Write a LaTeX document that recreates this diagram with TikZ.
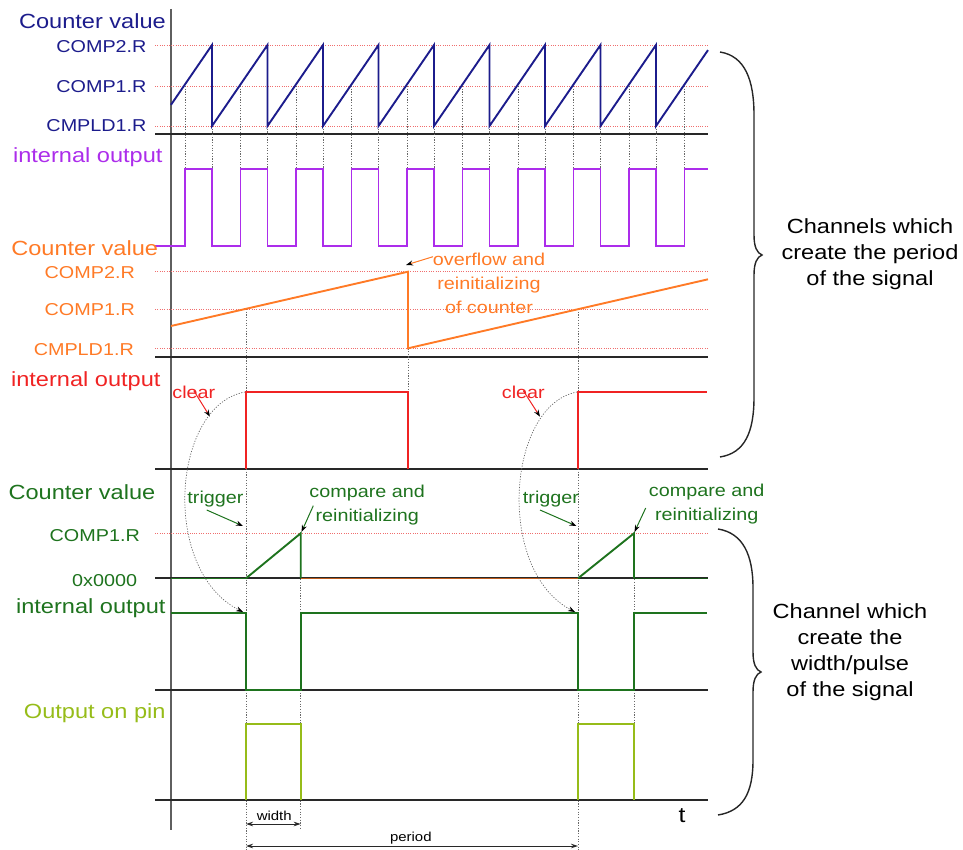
\documentclass[tikz,border=0pt]{standalone}
\usepackage{fontspec}
\setmainfont[FakeStretch=1.15]{Liberation Sans}
\usetikzlibrary{arrows.meta}

\definecolor{cblue}{RGB}{28,28,140}
\definecolor{cpurple}{RGB}{172,45,235}
\definecolor{corange}{RGB}{255,122,38}
\definecolor{cred}{RGB}{240,35,35}
\definecolor{cgreen}{RGB}{30,115,30}
\definecolor{cpin}{RGB}{150,188,25}
\definecolor{refred}{RGB}{240,110,110}
\definecolor{guidecol}{RGB}{105,105,105}
\definecolor{axiscol}{RGB}{95,95,95}
\definecolor{basecol}{RGB}{40,40,40}

\begin{document}
\begin{tikzpicture}[x=1pt,y=-1pt,
  lbl/.style={font=\fontsize{20.5}{26}\selectfont, inner sep=0pt},
  lvl/.style={font=\fontsize{17.2}{24}\selectfont, inner sep=0pt},
  note/.style={font=\fontsize{17.2}{24}\selectfont, inner sep=0pt, align=center},
  tinylbl/.style={font=\fontsize{13}{15}\selectfont, inner sep=0pt},
  sig/.style={line width=1.9pt},
  baseln/.style={draw=basecol, line width=1.9pt},
  refl/.style={draw=refred, line width=0.8pt, dash pattern=on 1pt off 1.3pt},
  guide/.style={draw=guidecol, line width=0.7pt, dash pattern=on 1.2pt off 1.5pt},
  ahead/.style={-{Stealth[length=7pt,width=5pt,color=black]}},
  dimarrow/.style={draw=basecol, line width=0.9pt, {Stealth[length=7pt,width=4.5pt]}-{Stealth[length=7pt,width=4.5pt]}},
  bracefill/.style={draw=black!85, line width=1.4pt},
]
\useasboundingbox (0,0) rectangle (963,850);

% time axis
\draw[draw=axiscol, line width=1.6pt] (171,9) -- (171,830);

% panel baselines
\foreach \yy in {134,356.7,469,578.3,690,800}
  \draw[baseln] (155,\yy) -- (708,\yy);

% compare / reload levels
\foreach \yy in {45,86,126,271.7,309,348.3,533.3}
  \draw[refl] (155,\yy) -- (708,\yy);

% guides of the fast counter
\foreach \k in {0,...,9}
  \draw[guide] ({185+55.5*\k},86) -- ({185+55.5*\k},169);
\foreach \k in {0,...,8}
  \draw[guide] ({212+55.5*\k},126) -- ({212+55.5*\k},169);

% guides of the slow counter and the pulse channel
\draw[guide] (246,309) -- (246,392.3);
\draw[guide] (408,348.3) -- (408,392.3);
\draw[guide] (578,309) -- (578,392.3);
\draw[guide] (246,469) -- (246,613.3);
\draw[guide] (578,469) -- (578,613.3);
\draw[guide] (300.7,533.3) -- (300.7,613.3);
\draw[guide] (634,533.3) -- (634,613.3);
\draw[guide] (246,690) -- (246,850);
\draw[guide] (300.7,690) -- (300.7,830);
\draw[guide] (578,690) -- (578,850);
\draw[guide] (634,690) -- (634,724.3);

% fast sawtooth counter
\draw[sig, cblue] (171,104.8)
  \foreach \k in {0,...,8} { -- ({212+55.5*\k},45) -- ({212+55.5*\k},126) }
  -- (708,50.1);

% its internal output
\draw[sig, cpurple] (155,245.7)
  \foreach \k in {0,...,8} { -- ({185+55.5*\k},245.7) -- ({185+55.5*\k},169)
     -- ({212+55.5*\k},169) -- ({212+55.5*\k},245.7) }
  -- (684.5,245.7) -- (684.5,169) -- (708,169);

% slow counter
\draw[sig, corange] (171,326) -- (408,271.7) -- (408,348.3) -- (708,279.3);

% its internal output
\draw[sig, cred] (246,469) -- (246,392.3) -- (408,392.3) -- (408,469);
\draw[sig, cred] (578,469) -- (578,392.3) -- (707,392.3);

% one-shot counter
\draw[line width=1.2pt, cgreen] (171,578.3) -- (246,578.3);
\draw[sig, cgreen] (246,578.3) -- (300.7,533.3) -- (300.7,578.3);
\draw[line width=1.2pt, corange!75!black] (300.7,578.3) -- (578,578.3);
\draw[sig, cgreen] (578,578.3) -- (634,533.3) -- (634,578.3);
\draw[line width=1.2pt, cgreen!70!black] (634,578.3) -- (708,578.3);

% its internal output
\draw[sig, cgreen] (171,613.3) -- (246,613.3) -- (246,690) -- (300.7,690)
  -- (300.7,613.3) -- (578,613.3) -- (578,690) -- (634,690) -- (634,613.3) -- (707,613.3);

% output on pin
\draw[sig, cpin] (246,800) -- (246,724.3) -- (300.7,724.3) -- (300.7,800);
\draw[sig, cpin] (578,800) -- (578,724.3) -- (634,724.3) -- (634,800);

% channel labels
\node[lbl, text=cblue, anchor=base east] (bcv) at (166,28.3) {Counter value};
\node[lvl, text=cblue, anchor=base east] (bc2) at (146.7,52.7) {COMP2.R};
\node[lvl, text=cblue, anchor=base east] (bc1) at (146.7,92.7) {COMP1.R};
\node[lvl, text=cblue, anchor=base east] (bld) at (146.7,131.7) {CMPLD1.R};
\node[lbl, text=cpurple, anchor=base east] (pio) at (162.7,162.3) {internal output};
\node[lbl, text=corange, anchor=base east] (ocv) at (158.3,255) {Counter value};
\node[lvl, text=corange, anchor=base east] (oc2) at (135,278.3) {COMP2.R};
\node[lvl, text=corange, anchor=base east] (oc1) at (135,315.7) {COMP1.R};
\node[lvl, text=corange, anchor=base east] (old) at (134,355) {CMPLD1.R};
\node[lbl, text=cred, anchor=base east] (rio) at (160.7,386.7) {internal output};
\node[lbl, text=cgreen, anchor=base east] (gcv) at (155.5,499.3) {Counter value};
\node[lvl, text=cgreen, anchor=base east] (gc1) at (140,541.7) {COMP1.R};
\node[lvl, text=cgreen, anchor=base east] (gz) at (137.3,586) {0x0000};
\node[lbl, text=cgreen, anchor=base east] (gio) at (165.7,613.3) {internal output};
\node[lbl, text=cpin, anchor=base east] (pin) at (165.7,718.3) {Output on pin};

% overflow note
\node[note, text=corange] (ovf) at (489,283.8) {overflow and\\reinitializing\\of counter};
\coordinate (ovftip) at (406,265);
\draw[ahead, corange, line width=1pt] (433,256.7) -- (ovftip);

% clear notes
\node[lvl, text=cred, anchor=base] (clr1) at (193.8,398.3) {clear};
\node[lvl, text=cred, anchor=base] (clr2) at (523.3,398.3) {clear};
\draw[ahead, cred, line width=1pt] ([yshift=8]clr1.south) -- (210,416.7);
\draw[ahead, cred, line width=1pt] ([yshift=8]clr2.south) -- (540,416.7);

% trigger notes
\node[lvl, text=cgreen, anchor=base] (trg1) at (215.5,503.3) {trigger};
\node[lvl, text=cgreen, anchor=base] (trg2) at (551,503.3) {trigger};
\draw[ahead, cgreen, line width=1pt] (206.7,510) -- (243,526);
\draw[ahead, cgreen, line width=1pt] (540,510) -- (576.5,526);

% compare notes
\node[note, text=cgreen] (cmp1) at (367.2,505.1) {compare and\\reinitializing};
\node[note, text=cgreen] (cmp2) at (706.7,504.3) {compare and\\reinitializing};
\draw[ahead, cgreen, line width=1pt] (313.3,505.7) -- (301.5,532);
\draw[ahead, cgreen, line width=1pt] (645.7,508) -- (634.5,532);

% clear edge triggers the one-shot channel
\draw[guide, ahead] (245,392) .. controls (172,405) and (160,570) .. (243,612);
\draw[guide, ahead] (577,392) .. controls (507,405) and (495,570) .. (575,612);

% width and period
\draw[dimarrow] (246,824) -- (300.7,824);
\node[tinylbl, anchor=base] (wid) at (274.2,820) {width};
\draw[dimarrow] (246,846) -- (578,846);
\node[tinylbl, anchor=base] (per) at (410.8,841.7) {period};
\node[font=\fontsize{21.5}{24}\selectfont, inner sep=0pt, anchor=base] (tlab) at (682,822.7) {t};

% braces and their captions
\draw[bracefill] (720,52) .. controls (745,56) and (754,80) .. (754,115)
  -- (754,235) .. controls (754,247) and (757,253) .. (762,255)
  .. controls (757,257) and (754,263) .. (754,275)
  -- (754,397) .. controls (754,432) and (745,453) .. (720,457);
\node[lbl, align=center, font=\fontsize{20.5}{26.2}\selectfont] (cap1) at (870,254.2)
  {Channels which\\create the period\\of the signal};

\draw[bracefill] (718,529) .. controls (743,533) and (753,555) .. (753,588)
  -- (753,652) .. controls (753,664) and (756,670) .. (761,672)
  .. controls (756,674) and (753,680) .. (753,692)
  -- (753,760) .. controls (753,793) and (743,811) .. (718,815);
\node[lbl, align=center, font=\fontsize{20.5}{25.9}\selectfont] (cap2) at (850,652.5)
  {Channel which\\create the\\width/pulse\\of the signal};
\end{tikzpicture}
\end{document}
